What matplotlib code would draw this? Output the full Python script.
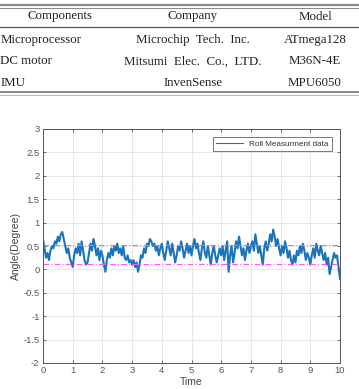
import numpy as np
import matplotlib.pyplot as plt
from matplotlib.lines import Line2D

W, H = 359, 389

# table contents
columns = ["Components", "Company", "Model"]
components = ["Microprocessor", "DC motor", "IMU"]
companies = ["Microchip  Tech.  Inc.", "Mitsumi  Elec.  Co.,  LTD.", "InvenSense"]
models = ["ATmega128", "M36N-4E", "MPU6050"]

# roll measurement, sampled every 0.05 s
dt = 0.05
roll = [
    0.65, 0.45, 0.25, 0.35, 0.2, 0.4, 0.5, 0.45, 0.6, 0.55, 0.7, 0.6, 0.75, 0.8, 0.65, 0.5, 0.35, 0.45, 0.25, 0.15,
    0.05, 0.3, 0.45, 0.35, 0.55, 0.3, 0.6, 0.4, 0.2, 0.1, 0.15, 0.35, 0.55, 0.4, 0.65, 0.5, 0.3, 0.45, 0.2, 0.4,
    0.3, 0.1, -0.05, 0.2, 0.35, 0.25, 0.45, 0.3, 0.5, 0.4, 0.55, 0.35, 0.45, 0.3, 0.5, 0.25, 0.2, 0.3, 0.15, 0.2,
    0.1, 0.2, 0.05, 0.15, -0.05, 0.1, 0.3, 0.25, 0.45, 0.35, 0.55, 0.5, 0.65, 0.6, 0.5, 0.55, 0.4, 0.5, 0.3, 0.45,
    0.55, 0.35, 0.2, 0.4, 0.6, 0.45, 0.3, 0.55, 0.35, 0.15, 0.3, 0.5, 0.4, 0.6, 0.45, 0.25, 0.4, 0.55, 0.35, 0.5,
    0.3, 0.5, 0.65, 0.45, 0.55, 0.35, 0.2, 0.45, 0.6, 0.35, 0.25, 0.5, 0.3, 0.1, 0.35, 0.5, 0.3, 0.15, 0.3, 0.45,
    0.3, 0.5, 0.2, 0.4, 0.6, -0.05, 0.3, 0.5, 0.15, 0.35, 0.6, 0.45, 0.7, 0.5, 0.3, 0.45, 0.2, 0.4, 0.55, 0.35,
    0.5, 0.6, 0.4, 0.75, 0.55, 0.35, 0.5, 0.3, 0.1, 0.45, 0.6, 0.4, 0.55, 0.75, 0.6, 0.85, 0.7, 0.5, 0.65, 0.45,
    0.3, 0.5, 0.35, 0.6, 0.45, 0.25, 0.4, 0.2, 0.1, 0.3, 0.15, 0.4, 0.3, 0.5, 0.35, 0.55, 0.4, 0.2, 0.35, 0.25,
    0.1, 0.3, 0.45, 0.25, 0.55, 0.4, 0.3, 0.5, 0.35, 0.2, 0.35, 0.1, 0.25, -0.1, 0.05, 0.2, 0.35, 0.25, 0.3, 0.05,
    -0.2,
]
upper_limit = 0.53
lower_limit = 0.12

xticks = list(range(0, 11))
yticks = [-2, -1.5, -1, -0.5, 0, 0.5, 1, 1.5, 2, 2.5, 3]


def fx(px):
    return px / W


def fy(py):
    return 1 - py / H


fig = plt.figure(figsize=(W / 100, H / 100), dpi=100)

# ---- table ----
serif = "Liberation Serif"
tcol = "#222222"
tfs = 9.3
for yy, lw, c in [(4.5, 1.6, "#8a8a8a"), (7.5, 0.8, "#8a8a8a"), (27, 0.9, "#555555"),
                  (92, 1.2, "#777777"), (94.5, 0.6, "#aaaaaa")]:
    fig.add_artist(Line2D([0, 1], [fy(yy), fy(yy)], color=c, lw=lw))

fig.text(fx(60), fy(16.5), columns[0], ha="center", va="center", family=serif, fontsize=tfs, color=tcol)
fig.text(fx(193), fy(16.5), columns[1], ha="center", va="center", family=serif, fontsize=tfs, color=tcol)
fig.text(fx(315), fy(16.5), columns[2], ha="center", va="center", family=serif, fontsize=tfs, color=tcol)
for i in range(3):
    yy = fy(39.5 + i * 22)
    fig.text(fx(0.5), yy, components[i], ha="left", va="center", family=serif, fontsize=tfs, color=tcol)
    fig.text(fx(193), yy, companies[i], ha="center", va="center", family=serif, fontsize=tfs, color=tcol)
    fig.text(fx(315), yy, models[i], ha="center", va="center", family=serif, fontsize=tfs, color=tcol)

# ---- chart ----
ax = fig.add_axes([fx(43), fy(363), fx(340) - fx(43), fy(129) - fy(363)])
t = np.arange(len(roll)) * dt
ax.plot(t, roll, color="#1a74bb", lw=1.5, label="Roll Measurment data")
ax.axhline(upper_limit, color="#ff55ff", lw=0.8, ls=(0, (5, 2, 1, 2)))
ax.axhline(lower_limit, color="#ff55ff", lw=0.8, ls=(0, (5, 2, 1, 2)))

ax.set_xlim(0, 10)
ax.set_ylim(-2, 3)
ax.set_xticks(xticks)
ax.set_yticks(yticks)
ax.set_yticklabels([f"{v:g}" for v in yticks])
ax.grid(True, color="#e3e3e3", lw=0.6)
ax.set_axisbelow(True)
ax.tick_params(direction="in", length=2.5, width=0.6, top=True, right=True,
               labelsize=6.8, colors="#555555", pad=2.5)
for s in ax.spines.values():
    s.set_color("#555555")
    s.set_linewidth(0.7)
ax.set_xlabel("Time", fontsize=7.5, color="#444444", labelpad=1, family="Liberation Sans")
ax.set_ylabel("Angle(Degree)", fontsize=7.5, color="#444444", labelpad=2, family="Liberation Sans")
for lab in ax.get_xticklabels() + ax.get_yticklabels():
    lab.set_family("Liberation Sans")

leg = ax.legend(loc="upper right", fontsize=5.9, frameon=True, fancybox=False,
                handlelength=3.3, borderpad=0.35, borderaxespad=1.0)
leg.get_frame().set_edgecolor("#555555")
leg.get_frame().set_linewidth(0.7)
for h in leg.get_lines():
    h.set_linewidth(0.8)
for txt in leg.get_texts():
    txt.set_family("Liberation Sans")
    txt.set_color("#333333")

fig.savefig("out.png", dpi=100)
